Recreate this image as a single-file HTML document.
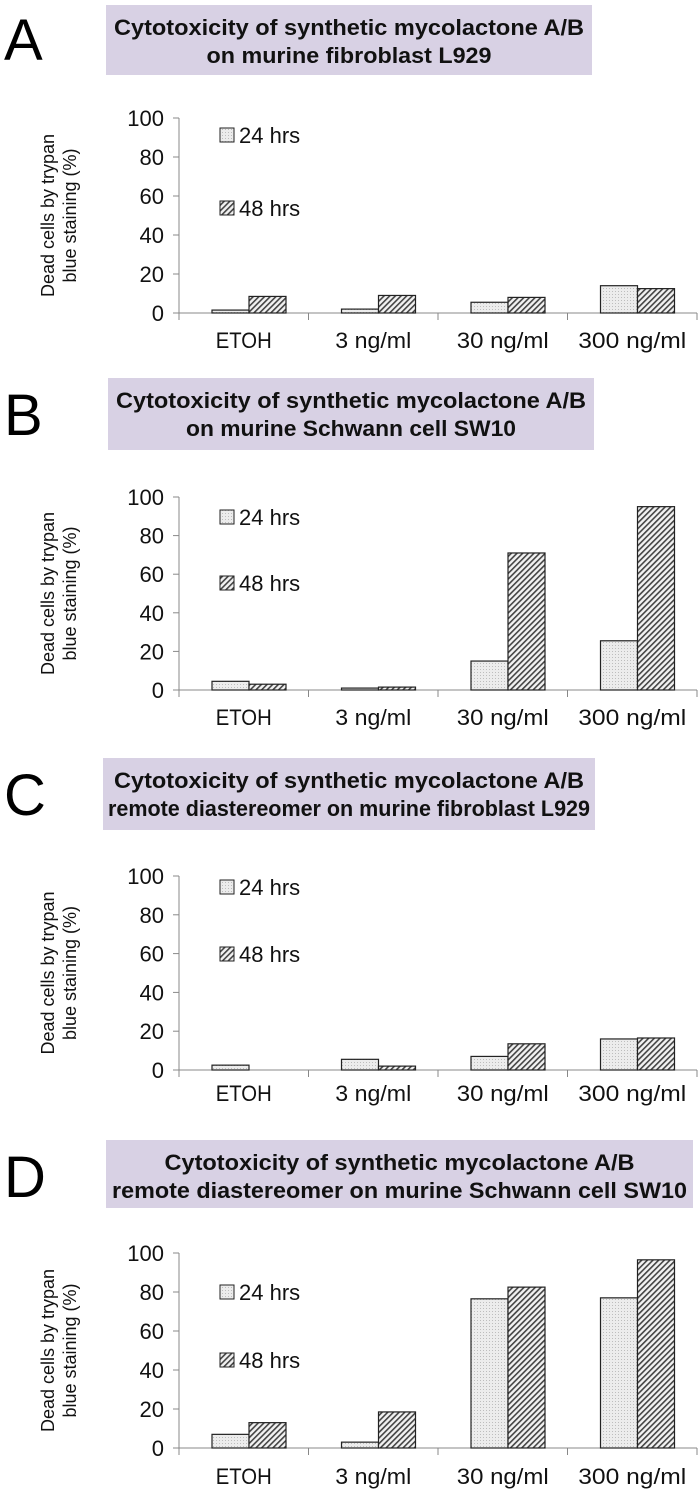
<!DOCTYPE html>
<html><head><meta charset="utf-8">
<style>
html,body{margin:0;padding:0;background:#fff;}
svg{display:block;font-family:"Liberation Sans",sans-serif;}
</style></head>
<body>
<svg id="fig" width="700" height="1501" viewBox="0 0 700 1501">
<defs>
<pattern id="dots" width="3" height="3" patternUnits="userSpaceOnUse">
<rect width="3" height="3" fill="#ececec"/><rect width="1" height="1" fill="#bdbdbd"/>
</pattern>
<pattern id="hatch" width="4" height="4" patternUnits="userSpaceOnUse" patternTransform="rotate(45)">
<rect width="4" height="4" fill="#f2f2f2"/><rect width="1.6" height="4" fill="#444"/>
</pattern>
</defs>
</svg>
<script>
const categories = ["ETOH", "3 ng/ml", "30 ng/ml", "300 ng/ml"];
const tickLabels = [0, 20, 40, 60, 80, 100];
const seriesNames = ["24 hrs", "48 hrs"];
const panelLetters = ["A", "B", "C", "D"];
const a24 = [1.5, 2, 5.5, 14];
const a48 = [8.5, 9, 8, 12.5];
const b24 = [4.5, 1, 15, 25.5];
const b48 = [3, 1.5, 71, 95];
const c24 = [2.5, 5.5, 7, 16];
const c48 = [0, 2, 13.5, 16.5];
const d24 = [7, 3, 76.5, 77];
const d48 = [13, 18.5, 82.5, 96.5];
const titlesA = ["Cytotoxicity of  synthetic mycolactone A/B", "on murine fibroblast L929"];
const titlesB = ["Cytotoxicity of  synthetic mycolactone A/B", "on murine Schwann cell SW10"];
const titlesC = ["Cytotoxicity of  synthetic mycolactone A/B", "remote diastereomer on murine fibroblast L929"];
const titlesD = ["Cytotoxicity of  synthetic mycolactone A/B", "remote diastereomer on murine Schwann cell SW10"];

const svg = document.getElementById('fig');
const NS = 'http://www.w3.org/2000/svg';
function mk(tag, attrs, parent, text) {
  const e = document.createElementNS(NS, tag);
  for (const k in attrs) e.setAttribute(k, attrs[k]);
  if (text !== undefined) e.textContent = text;
  (parent || svg).appendChild(e);
  return e;
}
const layouts = [
  {top:0, box:[106,5,486,70], y0:313, y100:118, leg:[135,208], lab:348, titles:titlesA, l2:285, s24:a24, s48:a48},
  {top:375, box:[108,378,486,72], y0:690, y100:497, leg:[517,583], lab:725, titles:titlesB, l2:330, s24:b24, s48:b48},
  {top:755, box:[103,758,492,72], y0:1070, y100:876, leg:[887,954], lab:1101, titles:titlesC, l2:482, s24:c24, s48:c48},
  {top:1137, box:[106,1140,587,68], y0:1448, y100:1253, leg:[1292,1360], lab:1484, titles:titlesD, l2:575, s24:d24, s48:d48}
];
const catLens = [56, 76, 92, 108];
const axisX = 179, catW = 129.5;
layouts.forEach((L, p) => {
  const g = mk('g', {});
  
  
  const letter = mk('text', {x:4, y:L.top+60, 'font-size':58}, g, panelLetters[p]);
  
  
  const b = L.box;
  const box = mk('rect', {x:b[0], y:b[1], width:b[2], height:b[3], fill:'#d8d1e4'}, g);
  
  
  const cx = b[0] + b[2]/2;
  L.titles.forEach((t, i) => {
    const te = mk('text', {x:cx, y:b[1]+30+i*28, 'font-size':22, 'font-weight':'bold', 'text-anchor':'middle', fill:'#111', textLength: i==0?470:L.l2, lengthAdjust:'spacingAndGlyphs'}, g, t);
    
    
  });
  const yS = v => L.y0 - (v/100)*(L.y0 - L.y100);
  const xS = i => axisX + i*catW;
  const ya = mk('line', {x1:axisX, y1:L.y100, x2:axisX, y2:L.y0, stroke:'#888', 'stroke-width':1}, g);
  
  
  tickLabels.forEach(t => {
    mk('line', {x1:axisX-6, y1:yS(t), x2:axisX, y2:yS(t), stroke:'#888'}, g);
    const tl = mk('text', {x:164, y:yS(t)+8, 'font-size':22, 'text-anchor':'end', fill:'#111'}, g, t);
    
    
  });
  const xa = mk('line', {x1:axisX, y1:L.y0, x2:xS(4), y2:L.y0, stroke:'#888'}, g);
  
  
  for (let i=0;i<=4;i++) mk('line', {x1:xS(i), y1:L.y0, x2:xS(i), y2:L.y0+7, stroke:'#888'}, g);
  const ym = (L.y0 + L.y100)/2;
  const yt = mk('text', {transform:`translate(54,${ym}) rotate(-90)`, 'font-size':18, 'text-anchor':'middle', fill:'#111'}, g);
  
  
  mk('tspan', {x:0, y:0}, yt, 'Dead cells by trypan');
  mk('tspan', {x:0, y:22}, yt, 'blue staining (%)');
  categories.forEach((c, i) => {
    const bw = 37;
    const x0 = xS(i) + 33;
    [[L.s24[i], 'url(#dots)', 'bar-24h'], [L.s48[i], 'url(#hatch)', 'bar-48h']].forEach((s, k) => {
      const yv = yS(s[0]);
      const r = mk('rect', {x:x0 + k*bw, y:yv, width:bw, height:L.y0 - yv, fill:s[1], stroke:'#222', 'stroke-width':1.2}, g);
      
      
    });
    const cl = mk('text', {x:xS(i)+catW/2, y:L.lab, 'font-size':22, 'text-anchor':'middle', fill:'#111', textLength:catLens[i], lengthAdjust:'spacingAndGlyphs'}, g, c);
    
    
  });
  seriesNames.forEach((n, k) => {
    const ly = L.leg[k];
    const sw = mk('rect', {x:220, y:ly-7, width:14, height:14, fill:k==0?'url(#dots)':'url(#hatch)', stroke:'#222'}, g);
    
    
    const lt = mk('text', {x:239, y:ly+8, 'font-size':22, fill:'#111'}, g, n);
    
    
  });
});
</script>
</body></html>
